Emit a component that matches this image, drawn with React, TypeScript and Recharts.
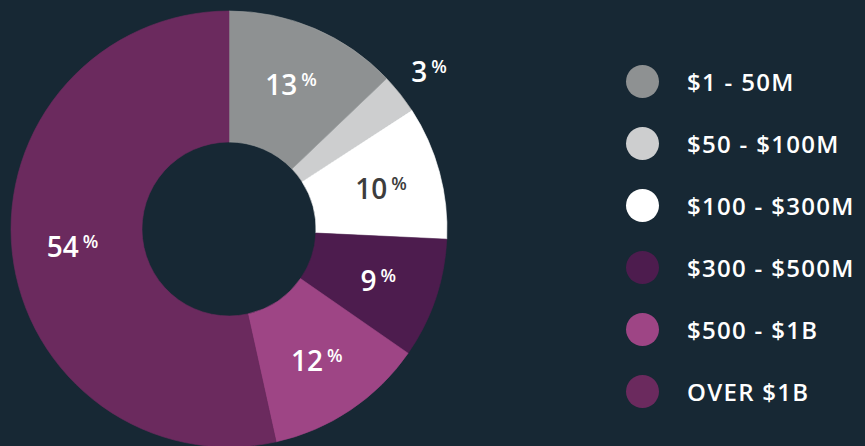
import React from 'react';
import { PieChart, Pie, Cell, Legend } from 'recharts';

const categories = ['$1 - 50M', '$50 - $100M', '$100 - $300M', '$300 - $500M', '$500 - $1B', 'OVER $1B'];
const shares = [13, 3, 10, 9, 12, 54];

const COLORS = ['#8e9192', '#cdcecf', '#ffffff', '#4d1c4e', '#9e4585', '#6b2a5e'];
const LABEL_COLORS = ['#ffffff', '#ffffff', '#3d3d3d', '#ffffff', '#ffffff', '#ffffff'];
const BG = '#172834';
const FONT = '"Open Sans", "Noto Sans", sans-serif';

const data = categories.map((name, i) => ({ name, value: shares[i] }));

const RAD = Math.PI / 180;

const renderLabel = (props: any) => {
    const { cx, cy, midAngle, innerRadius, outerRadius, index, value } = props;
    // small slices get their label outside the ring
    const r = value < 5 ? outerRadius + 37 : (innerRadius + outerRadius) / 2 + 5;
    const x = cx + r * Math.cos(-midAngle * RAD);
    const y = cy + r * Math.sin(-midAngle * RAD);
    return (
        <text x={x} y={y} textAnchor="middle" dominantBaseline="central" fill={LABEL_COLORS[index]} fontFamily={FONT} fontWeight={600}>
            <tspan fontSize={28}>{value}</tspan>
            <tspan fontSize={18} dx={4} dy={-5}>%</tspan>
        </text>
    );
};

const renderLegend = () => (
    <div style={{ display: 'flex', flexDirection: 'column', gap: 29 }}>
        {categories.map((name, i) => (
            <div key={name} style={{ display: 'flex', alignItems: 'center', height: 33 }}>
                <span style={{ width: 33, height: 33, borderRadius: '50%', background: COLORS[i], display: 'inline-block' }} />
                <span style={{ marginLeft: 28, color: '#ffffff', fontFamily: FONT, fontWeight: 600, fontSize: 24, letterSpacing: 1.3, whiteSpace: 'nowrap' }}>{name}</span>
            </div>
        ))}
    </div>
);

export default function App() {
    return (
        <div style={{ position: 'absolute', left: 0, top: 0, width: 865, height: 446, background: BG, overflow: 'hidden' }}>
            <PieChart width={865} height={446} margin={{ top: 0, right: 0, bottom: 0, left: 0 }}>
                <Legend content={renderLegend} wrapperStyle={{ left: 626, top: 65, width: 240 }} />
                <Pie
                    data={data}
                    dataKey="value"
                    nameKey="name"
                    cx={229}
                    cy={229}
                    innerRadius={87}
                    outerRadius={218}
                    startAngle={90}
                    endAngle={-270}
                    label={renderLabel}
                    labelLine={false}
                    isAnimationActive={false}
                >
                    {data.map((entry, index) => (
                        <Cell key={`cell-${index}`} fill={COLORS[index]} stroke={index < 2 ? '#a0a2a3' : COLORS[index]} strokeWidth={0.6} />
                    ))}
                </Pie>
            </PieChart>
        </div>
    );
}
